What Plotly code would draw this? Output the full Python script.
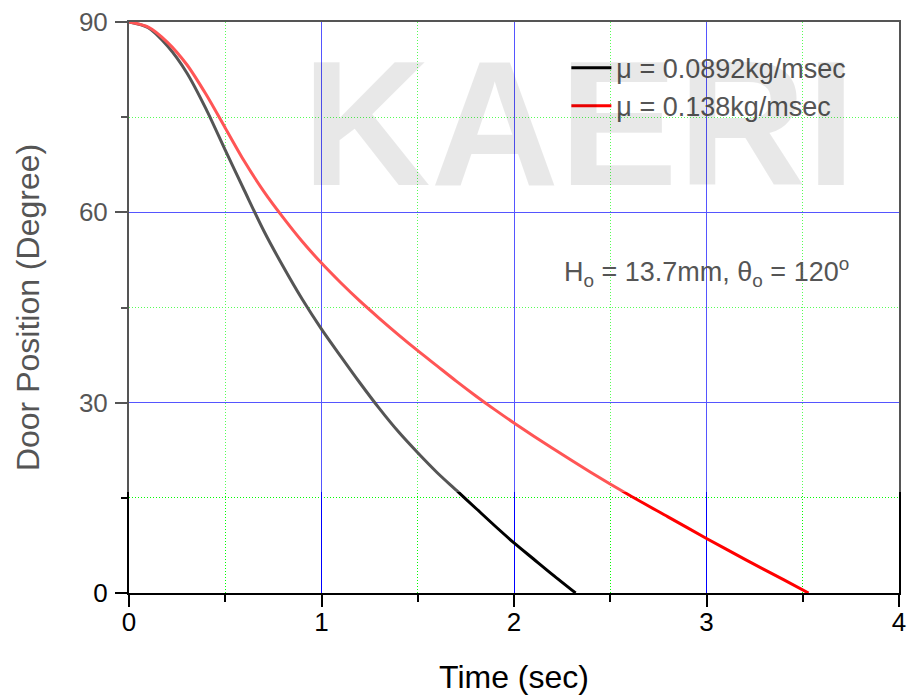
import plotly.graph_objects as go

# Data
t_black = [0, 0.1, 0.2, 0.3, 0.4, 0.5, 0.6, 0.7, 0.8, 0.9, 1.0, 1.1, 1.2, 1.3, 1.4,
           1.5, 1.6, 1.7, 1.8, 1.9, 2.0, 2.1, 2.2, 2.32]
y_black = [90, 89.1, 86.2, 82.0, 76.3, 69.8, 63.4, 57.1, 51.5, 46.3, 41.6, 37.3, 33.1,
           29.1, 25.4, 22.1, 19.0, 16.2, 13.4, 10.6, 7.9, 5.4, 2.9, 0]
t_red = [0, 0.1, 0.2, 0.3, 0.4, 0.5, 0.6, 0.7, 0.8, 0.9, 1.0, 1.1, 1.2, 1.3, 1.4,
         1.5, 1.6, 1.7, 1.8, 1.9, 2.0, 2.2, 2.4, 2.6, 2.8, 3.0, 3.2, 3.4, 3.53]
y_red = [90, 89.2, 86.8, 83.3, 78.6, 73.3, 68.0, 63.3, 59.2, 55.4, 52.0, 48.9, 46.0,
         43.3, 40.7, 38.2, 35.8, 33.4, 31.1, 28.9, 26.8, 22.8, 19.0, 15.4, 12.0, 8.6,
         5.3, 2.1, 0]

names = ["\u03bc = 0.0892kg/msec", "\u03bc = 0.138kg/msec"]
x_ticks = [0, 1, 2, 3, 4]
y_ticks = [0, 30, 60, 90]

FONT = "Arial, Liberation Sans, sans-serif"

fig = go.Figure()
fig.add_trace(go.Scatter(x=t_black, y=y_black, mode="lines", name=names[0],
                         line=dict(color="#000000", width=3, shape="spline", smoothing=0.8)))
fig.add_trace(go.Scatter(x=t_red, y=y_red, mode="lines", name=names[1],
                         line=dict(color="#ff0000", width=3, shape="spline", smoothing=0.8)))

axis_common = dict(
    showline=True, linecolor="#000000", linewidth=2, mirror=True,
    ticks="outside", ticklen=12, tickwidth=2, tickcolor="#000000",
    showgrid=True, gridcolor="#0000ff", gridwidth=1, zeroline=False,
    tickfont=dict(family=FONT, size=26, color="#000000"),
    automargin=False,
)
minor_common = dict(ticks="outside", tickwidth=2, tickcolor="#000000",
                    showgrid=True, gridcolor="#00ff00", griddash="1px,2px", gridwidth=1)

fig.update_xaxes(
    range=[0, 4], tickvals=x_ticks,
    title=dict(text="Time (sec)", font=dict(family=FONT, size=32, color="#000000"), standoff=29),
    minor=dict(dtick=0.5, ticklen=7, **minor_common),
    ticklabelstandoff=-7,
    **axis_common,
)
fig.update_yaxes(
    range=[0, 90], tickvals=y_ticks,
    title=dict(text="Door Position (Degree)", font=dict(family=FONT, size=32, color="#555555"), standoff=30),
    minor=dict(dtick=15, ticklen=6, **minor_common),
    ticklabelstandoff=2,
    **axis_common,
)

# watermark veil over the upper part of the image
fig.add_shape(type="rect", xref="paper", yref="paper",
              x0=-0.17, x1=1.02, y0=0.177, y1=1.04,
              fillcolor="rgba(255,255,255,0.333)", line=dict(width=0), layer="above")

fig.add_annotation(x=2.34, y=74.0, xref="x", yref="y", text="<b>KAERI</b>", showarrow=False,
                   font=dict(family=FONT, size=178, color="rgba(0,0,0,0.09)"))

fig.add_annotation(x=3.0, y=50.6, xref="x", yref="y",
                   text="H<sub>o</sub> = 13.7mm, \u03b8<sub>o</sub> = 120<sup>o</sup>",
                   showarrow=False, font=dict(family=FONT, size=27, color="#555555"))

fig.update_layout(
    width=908, height=696,
    margin=dict(l=129, r=9, t=22, b=103),
    plot_bgcolor="white", paper_bgcolor="white",
    showlegend=True,
    legend=dict(x=0.568, y=0.962, xanchor="left", yanchor="top",
                bgcolor="rgba(0,0,0,0)", font=dict(family=FONT, size=27, color="#555555"),
                itemwidth=40, tracegroupgap=0),
)

fig.write_html("out.html")
